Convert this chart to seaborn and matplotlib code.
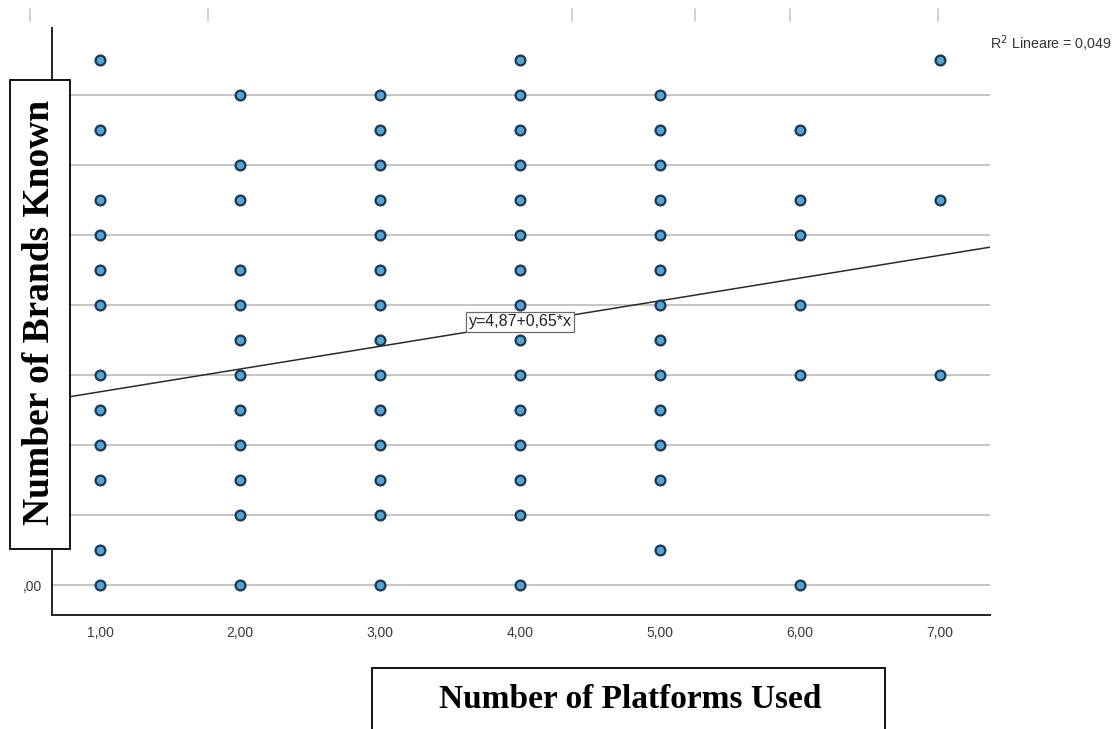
import numpy as np
import pandas as pd
import matplotlib
matplotlib.use("Agg")
import matplotlib.pyplot as plt
import seaborn as sns
from matplotlib.patches import Rectangle
from matplotlib.lines import Line2D

# Observed (platforms, brands) combinations
platforms_1 = [15, 13, 11, 10, 9, 8, 6, 5, 4, 3, 1, 0]
platforms_2 = [14, 12, 11, 9, 8, 7, 6, 5, 4, 3, 2, 0]
platforms_3 = [14, 13, 12, 11, 10, 9, 8, 7, 6, 5, 4, 3, 2, 0]
platforms_4 = [15, 14, 13, 12, 11, 10, 9, 8, 7, 6, 5, 4, 3, 2, 0]
platforms_5 = [14, 13, 12, 11, 10, 9, 8, 7, 6, 5, 4, 3, 1]
platforms_6 = [13, 11, 10, 8, 6, 0]
platforms_7 = [15, 11, 6]
brands_by_platform = [platforms_1, platforms_2, platforms_3, platforms_4,
                      platforms_5, platforms_6, platforms_7]

# Linear fit reported by the analysis
intercept = 4.87
slope = 0.65
r_squared = "0,049"

x_ticks = [1, 2, 3, 4, 5, 6, 7]
y_ticks = [0, 2, 4, 6, 8, 10, 12, 14]
x_tick_labels = ["1,00", "2,00", "3,00", "4,00", "5,00", "6,00", "7,00"]
# only the bottom label stays visible beside the boxed title
y_tick_labels = [",00", "", "", "", "", "", "", ""]

rows = []
for p, brands in enumerate(brands_by_platform, start=1):
    for b in brands:
        rows.append({"platforms": p, "brands": b})
df = pd.DataFrame(rows)

sns.set_style("white")
plt.rcParams["font.family"] = ["Liberation Sans", "DejaVu Sans"]

W, H = 1119, 729
fig = plt.figure(figsize=(W / 100, H / 100), dpi=100)
ax = fig.add_axes([52 / W, (H - 615) / H, (990 - 52) / W, (615 - 28) / H])

xlim = (0.657, 7.357)
ylim = (-0.857, 15.914)
ax.set_xlim(*xlim)
ax.set_ylim(*ylim)

# horizontal reference lines
for yv in y_ticks:
    ax.axhline(yv, color="#c6c6c6", lw=1.4, zorder=1)

sns.scatterplot(data=df, x="platforms", y="brands", ax=ax, s=50,
                color="#4ea5d8", edgecolor="#1d3650", linewidth=1.6,
                zorder=3, legend=False)

# fit line
xs = np.array(xlim)
ax.plot(xs, intercept + slope * xs, color="#2b2b2b", lw=1.1, zorder=2)
lx = 4.0
ax.text(lx, intercept + slope * lx + 0.05, f"y={intercept:.2f}+{slope:.2f}*x".replace(".", ","),
        fontsize=11.5, ha="center", va="center", color="#222222", zorder=4,
        bbox=dict(boxstyle="square,pad=0.15", fc="white", ec="#6a6a6a", lw=0.9))

ax.set_xticks(x_ticks)
ax.set_xticklabels(x_tick_labels)
ax.set_yticks(y_ticks)
ax.set_yticklabels(y_tick_labels)
ax.tick_params(axis="both", length=0, labelsize=10, labelcolor="#3a3a3a")
ax.tick_params(axis="x", pad=8)
ax.tick_params(axis="y", pad=7)
ax.set_xlabel("")
ax.set_ylabel("")

for side in ["top", "right"]:
    ax.spines[side].set_visible(False)
for side in ["left", "bottom"]:
    ax.spines[side].set_color("#222222")
    ax.spines[side].set_linewidth(1.4)

fig.text(990 / W, 1 - 44 / H, f"R$^2$ Lineare = {r_squared}", fontsize=10.3,
         color="#333333", ha="left", va="center")

# faint marks along the top edge
for xp in [30, 208, 572, 695, 790, 938]:
    fig.add_artist(Line2D([xp / W, xp / W], [1 - 9 / H, 1 - 21 / H],
                          transform=fig.transFigure, color="#c8c8c8", lw=1.2))

# boxed axis titles
ybox = Rectangle((10 / W, 1 - 549 / H), 60 / W, 469 / H, transform=fig.transFigure,
                 fc="white", ec="black", lw=1.3, zorder=10)
fig.add_artist(ybox)
fig.text(40 / W, 1 - 312 / H, "Number of Brands Known", rotation=90,
         ha="center", va="center", fontsize=27, fontweight="bold", color="black",
         family=["Liberation Serif"], zorder=11)

xbox = Rectangle((372 / W, -0.01), (885 - 372) / W, (668 / -H) + 1 + 0.01,
                 transform=fig.transFigure, fc="white", ec="black", lw=1.3, zorder=10)
fig.add_artist(xbox)
fig.text(630 / W, 1 - 700 / H, "Number of Platforms Used", ha="center", va="center",
         fontsize=24, fontweight="bold", color="black",
         family=["Liberation Serif"], zorder=11)

fig.savefig("out.png", dpi=100, facecolor="white")
